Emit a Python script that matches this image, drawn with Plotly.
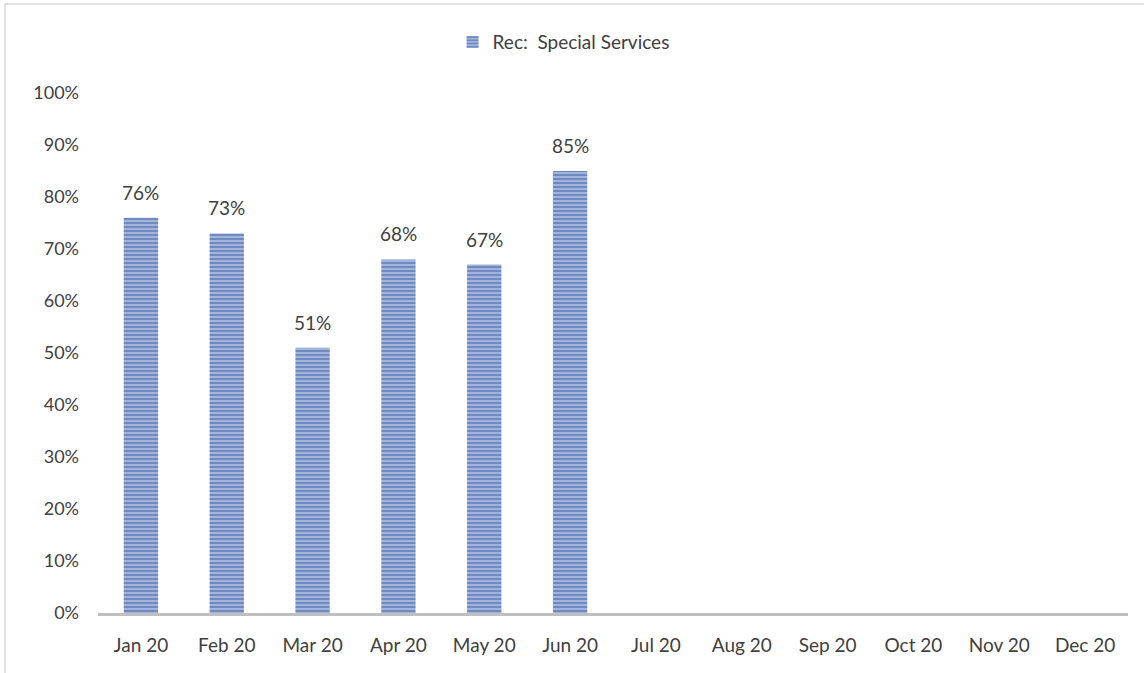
import plotly.graph_objects as go

months = ["Jan 20", "Feb 20", "Mar 20", "Apr 20", "May 20", "Jun 20",
          "Jul 20", "Aug 20", "Sep 20", "Oct 20", "Nov 20", "Dec 20"]
values = [0.76, 0.73, 0.51, 0.68, 0.67, 0.85, None, None, None, None, None, None]
series_name = "Rec:\u00a0 Special Services"
y_ticks = [0, 0.1, 0.2, 0.3, 0.4, 0.5, 0.6, 0.7, 0.8, 0.9, 1.0]

FONT = "Lato"
TXT = "#404040"

fig = go.Figure()
fig.add_trace(go.Bar(
    x=months, y=values, name=series_name, width=0.4,
    marker=dict(color="#a9bce2", line=dict(width=0),
                pattern=dict(shape="-", fgcolor="#2b4f97", bgcolor="#b4c5e7",
                             size=4, solidity=0.65)),
    showlegend=True,
))

for m, v in zip(months, values):
    if v is not None:
        fig.add_annotation(x=m, y=v, text=f"{round(v*100)}%", showarrow=False,
                           yanchor="bottom", yshift=12,
                           font=dict(family=FONT, size=19, color=TXT))

fig.add_shape(type="rect", xref="paper", yref="paper",
              x0=-0.0903, x1=1.2, y0=-0.3, y1=1.1712,
              line=dict(color="#d9d9d9", width=1.5), fillcolor="rgba(0,0,0,0)", layer="below")

fig.update_layout(
    width=1144, height=673,
    margin=dict(l=98, r=16, t=93, b=60),
    paper_bgcolor="white", plot_bgcolor="white",
    font=dict(family=FONT, size=19, color=TXT),
    bargap=0.6,
    legend=dict(orientation="h", x=0.452, y=1.098, xanchor="center", yanchor="middle",
                font=dict(family=FONT, size=19, color=TXT), itemwidth=30),
    xaxis=dict(showline=True, linecolor="#bfbfbf", linewidth=3, showgrid=False,
               ticks="", ticklabelstandoff=13, tickfont=dict(family=FONT, size=19, color=TXT),
               categoryorder="array", categoryarray=months, range=[-0.5, 11.5]),
    yaxis=dict(range=[0, 1.0], tickvals=y_ticks, tickformat=".0%", showgrid=False,
               zeroline=False, showline=False, ticks="", ticklabelstandoff=18,
               tickfont=dict(family=FONT, size=18, color=TXT)),
)

fig.write_html("out.html")
